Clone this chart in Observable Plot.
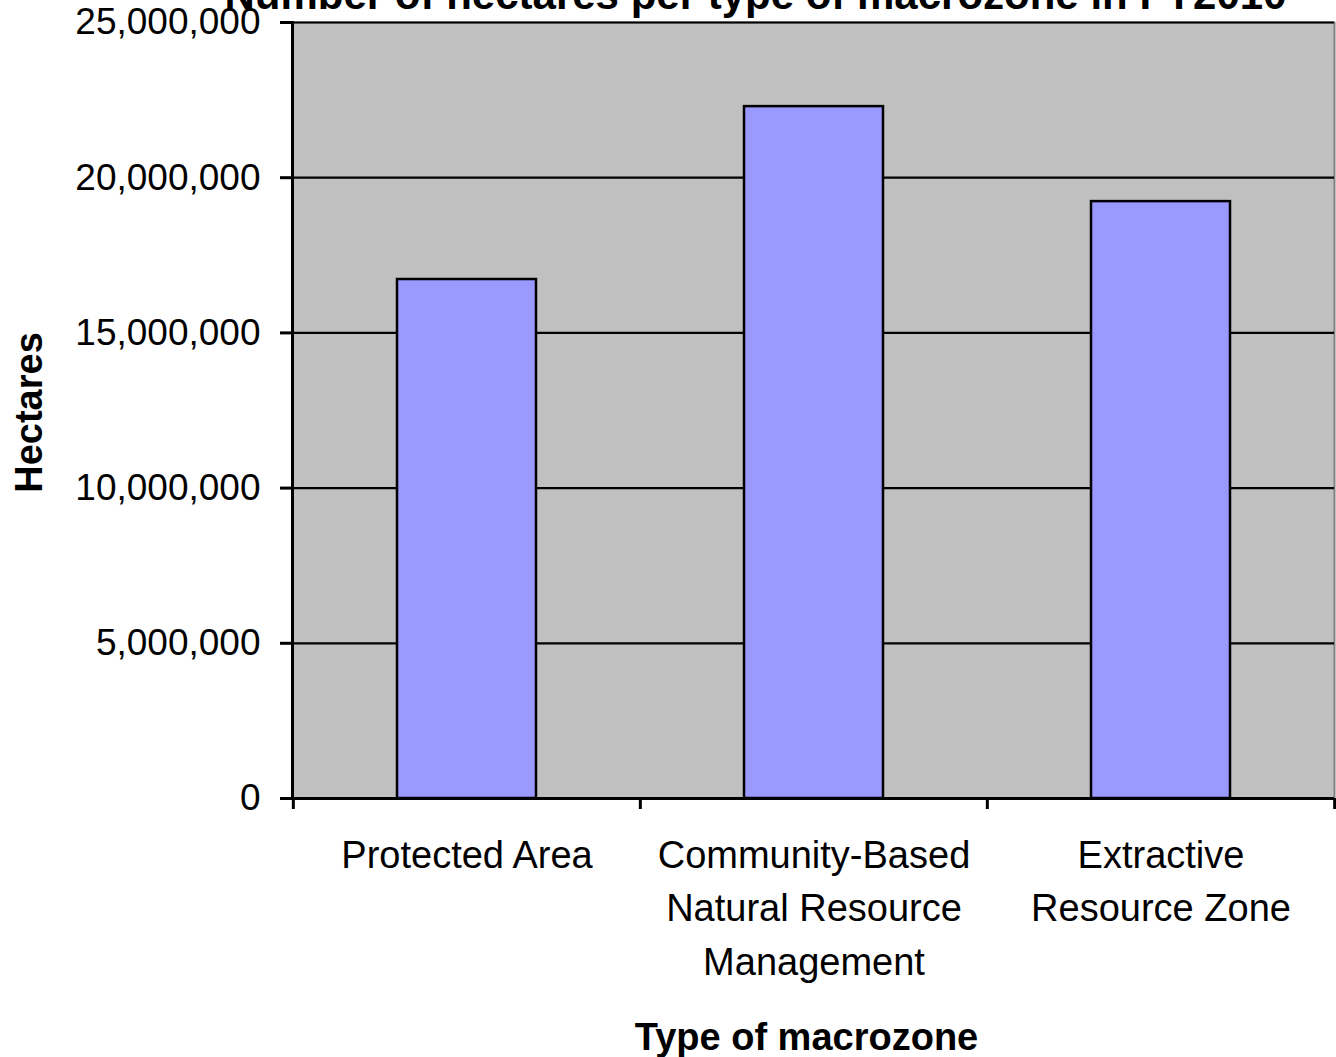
<!DOCTYPE html>
<html>
<head>
<meta charset="utf-8">
<script src="https://cdn.jsdelivr.net/npm/d3@7"></script>
<script src="https://cdn.jsdelivr.net/npm/@observablehq/plot@0.6"></script>
<style>
  body { margin: 0; background: #ffffff; }
  #chart svg { display: block; }
</style>
</head>
<body>
<div id="chart"></div>
<script>
const categories = ["Protected Area", "Community-Based Natural Resource Management", "Extractive Resource Zone"];
const hectares = [16720000, 22290000, 19230000];
const tickLabels = ["Protected Area", "Community-Based\nNatural Resource\nManagement", "Extractive\nResource Zone"];
const yTicks = [0, 5000000, 10000000, 15000000, 20000000, 25000000];
const title = "Number of hectares per type of macrozone in FY2010";
const xLabel = "Type of macrozone";
const yLabel = "Hectares";

const data = categories.map((c, i) => ({category: c, value: hectares[i]}));

const W = 1336, H = 1057, mL = 292, mR = 2, mT = 22, mB = 259;
const step = (W - mL - mR) / categories.length;
const font = "'Liberation Sans', Arial, Helvetica, sans-serif";

const chart = Plot.plot({
  width: W,
  height: H,
  marginLeft: mL,
  marginRight: mR,
  marginTop: mT,
  marginBottom: mB,
  style: {fontFamily: font, fontSize: "37px", color: "black", background: "white"},
  x: {domain: categories, paddingInner: 0.6, paddingOuter: 0.3, label: null},
  y: {domain: [0, 25000000], label: null},
  marks: [
    Plot.frame({fill: "#c0c0c0", stroke: "#808080", strokeWidth: 2}),
    Plot.ruleY(yTicks.slice(1), {stroke: "black", strokeWidth: 2.2}),
    Plot.barY(data, {x: "category", y: "value", fill: "#9999ff", stroke: "black", strokeWidth: 2.5}),
    Plot.ruleY([0], {stroke: "black", strokeWidth: 3}),
    Plot.frame({anchor: "left", stroke: "black", strokeWidth: 3}),
    Plot.axisY({ticks: yTicks, tickFormat: d3.format(","), tickSize: 12, tickPadding: 20, strokeWidth: 3, fontSize: 37, label: null}),
    Plot.axisX({tickSize: 0, tickPadding: 32, tickFormat: d => tickLabels[categories.indexOf(d)], lineHeight: 1.4, fontSize: 38, label: null}),
    Plot.ruleX(categories, {x: d => d, dx: -step / 2, insetTop: H - mT - mB, insetBottom: -11, stroke: "black", strokeWidth: 3}),
    Plot.ruleX(categories.slice(-1), {x: d => d, dx: step / 2, insetTop: H - mT - mB, insetBottom: -11, stroke: "black", strokeWidth: 3}),
    Plot.text([title], {frameAnchor: "top", textAnchor: "middle", lineAnchor: "middle", dy: -27.4, dx: -58, fontSize: 42, fontWeight: "bold", fill: "black"}),
    Plot.text([yLabel], {frameAnchor: "left", textAnchor: "middle", rotate: -90, lineAnchor: "middle", dx: -263, dy: 2, fontSize: 38, fontWeight: "bold", fill: "black"}),
    Plot.text([xLabel], {frameAnchor: "bottom", textAnchor: "middle", lineAnchor: "middle", dy: 239.8, dx: -7, fontSize: 38, fontWeight: "bold", fill: "black"})
  ]
});

document.getElementById("chart").appendChild(chart);
</script>
</body>
</html>
